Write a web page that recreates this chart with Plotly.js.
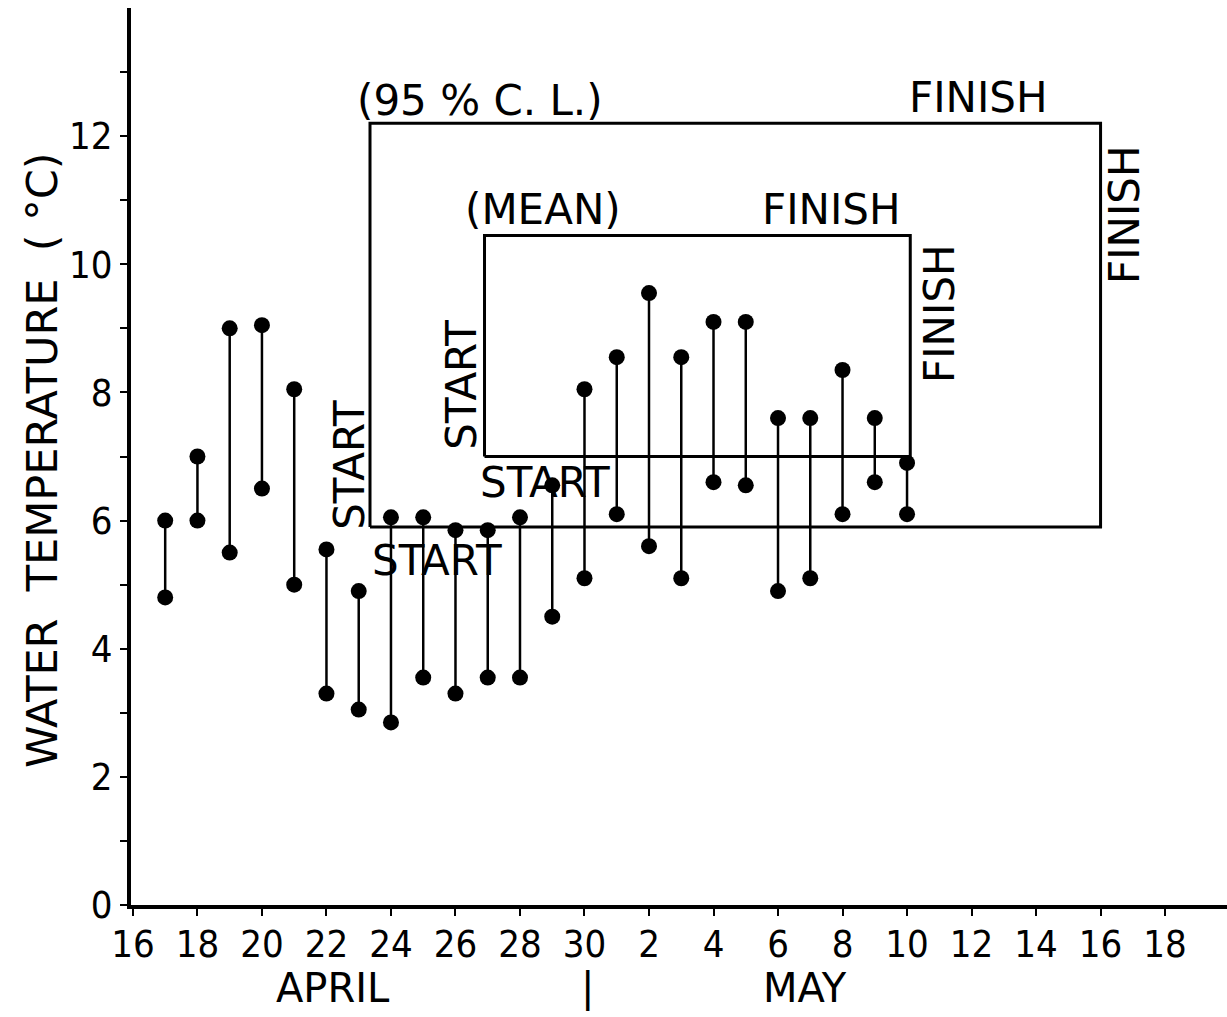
<!DOCTYPE html>
<html>
<head>
<meta charset="utf-8">
<script src="https://cdn.plot.ly/plotly-3.0.1.min.js"></script>
<style>
  html, body { margin: 0; padding: 0; background: #fff; }
  #chart { width: 1227px; height: 1017px; }
</style>
</head>
<body>
<div id="chart"></div>
<script>
// Day number counted from 1 April (so 1 May = 31)
const dayNumber = [17, 18, 19, 20, 21, 22, 23, 24, 25, 26, 27, 28, 29, 30,
                   31, 32, 33, 34, 35, 36, 37, 38, 39, 40];
// Daily water temperature range (°C)
const dailyHigh = [6.0, 7.0, 9.0, 9.05, 8.05, 5.55, 4.9, 6.05, 6.05, 5.85, 5.85, 6.05, 6.55, 8.05,
                   8.55, 9.55, 8.55, 9.1, 9.1, 7.6, 7.6, 8.35, 7.6, 6.9];
const dailyLow  = [4.8, 6.0, 5.5, 6.5, 5.0, 3.3, 3.05, 2.85, 3.55, 3.3, 3.55, 3.55, 4.5, 5.1,
                   6.1, 5.6, 5.1, 6.6, 6.55, 4.9, 5.1, 6.1, 6.6, 6.1];

// Migration window: (MEAN) and (95 % C.L.)
const meanStartDay = 26.9,  meanFinishDay = 40.1;
const meanStartTemp = 7.0,  meanFinishTemp = 10.45;
const clStartDay = 23.35,   clFinishDay = 46.0;
const clStartTemp = 5.9,    clFinishTemp = 12.2;

// Axis ticks
const xTickVals = [16, 18, 20, 22, 24, 26, 28, 30, 32, 34, 36, 38, 40, 42, 44, 46, 48];
const xTickText = ['16', '18', '20', '22', '24', '26', '28', '30', '2', '4', '6', '8', '10', '12', '14', '16', '18'];
const yTickVals = [0, 1, 2, 3, 4, 5, 6, 7, 8, 9, 10, 11, 12, 13];
const yTickText = ['0', '', '2', '', '4', '', '6', '', '8', '', '10', '', '12', ''];

const FONT = 'DejaVu Sans, Liberation Sans, sans-serif';
const TICKFONT = 'DejaVu Sans Condensed, DejaVu Sans, sans-serif';

// stems
const stemX = [], stemY = [];
dayNumber.forEach((d, i) => { stemX.push(d, d, null); stemY.push(dailyLow[i], dailyHigh[i], null); });

function boxTrace(x0, x1, y0, y1) {
  return {
    type: 'scatter', mode: 'lines',
    x: [x0, x1, x1, x0, x0], y: [y0, y0, y1, y1, y0],
    line: { color: '#000', width: 3 }, hoverinfo: 'skip', showlegend: false
  };
}

const traces = [
  boxTrace(clStartDay, clFinishDay, clStartTemp, clFinishTemp),
  boxTrace(meanStartDay, meanFinishDay, meanStartTemp, meanFinishTemp),
  { type: 'scatter', mode: 'lines', x: stemX, y: stemY,
    line: { color: '#000', width: 2.5 }, hoverinfo: 'skip', showlegend: false },
  { type: 'scatter', mode: 'markers', x: dayNumber.concat(dayNumber), y: dailyHigh.concat(dailyLow),
    marker: { color: '#000', size: 16 }, showlegend: false }
];

function ann(text, x, y, opts) {
  return Object.assign({ text: text, x: x, y: y, xref: 'x', yref: 'y', showarrow: false,
    xanchor: 'center', yanchor: 'middle',
    font: { family: FONT, size: 42, color: '#000' } }, opts || {});
}

const MONTHFONT = { family: FONT, size: 40, color: '#000' };

const annotations = [
  ann('(95 % C. L.)', 22.88, 12.56, { xanchor: 'left' }),
  ann('FINISH', 42.2, 12.61),
  ann('FINISH', 46.76, 10.77, { textangle: -90 }),
  ann('START', 22.73, 6.87, { textangle: -90 }),
  ann('START', 25.43, 5.38),
  ann('(MEAN)', 28.71, 10.85),
  ann('FINISH', 37.67, 10.85),
  ann('FINISH', 41.02, 9.24, { textangle: -90 }),
  ann('START', 26.2, 8.12, { textangle: -90 }),
  ann('START', 28.78, 6.59),
  ann('APRIL', 22.2, -0.092, { yref: 'paper', font: MONTHFONT }),
  ann('|', 30.1, -0.092, { yref: 'paper', font: MONTHFONT }),
  ann('MAY', 36.84, -0.092, { yref: 'paper', font: MONTHFONT }),
  ann('WATER  TEMPERATURE  ( °C)', -0.0812, 0.496,
      { xref: 'paper', yref: 'paper', textangle: -90, font: { family: FONT, size: 43, color: '#000' } })
];

const layout = {
  width: 1227, height: 1017,
  margin: { l: 131, r: 0, t: 8, b: 112 },
  paper_bgcolor: '#fff', plot_bgcolor: '#fff',
  showlegend: false,
  font: { family: FONT, color: '#000' },
  xaxis: {
    range: [15.94, 49.92], showgrid: false, zeroline: false,
    showline: true, linecolor: '#000', linewidth: 4,
    tickmode: 'array', tickvals: xTickVals, ticktext: xTickText,
    ticks: 'outside', ticklen: 7, tickwidth: 2, tickcolor: '#000',
    ticklabelstandoff: -5,
    tickfont: { family: TICKFONT, size: 38, color: '#000' }
  },
  yaxis: {
    range: [0, 14], showgrid: false, zeroline: false,
    showline: true, linecolor: '#000', linewidth: 4,
    tickmode: 'array', tickvals: yTickVals, ticktext: yTickText,
    ticks: 'outside', ticklen: 7, tickwidth: 2, tickcolor: '#000',
    tickfont: { family: TICKFONT, size: 38, color: '#000' }
  },
  annotations: annotations
};

Plotly.newPlot('chart', traces, layout, { displayModeBar: false, staticPlot: true });
</script>
</body>
</html>
